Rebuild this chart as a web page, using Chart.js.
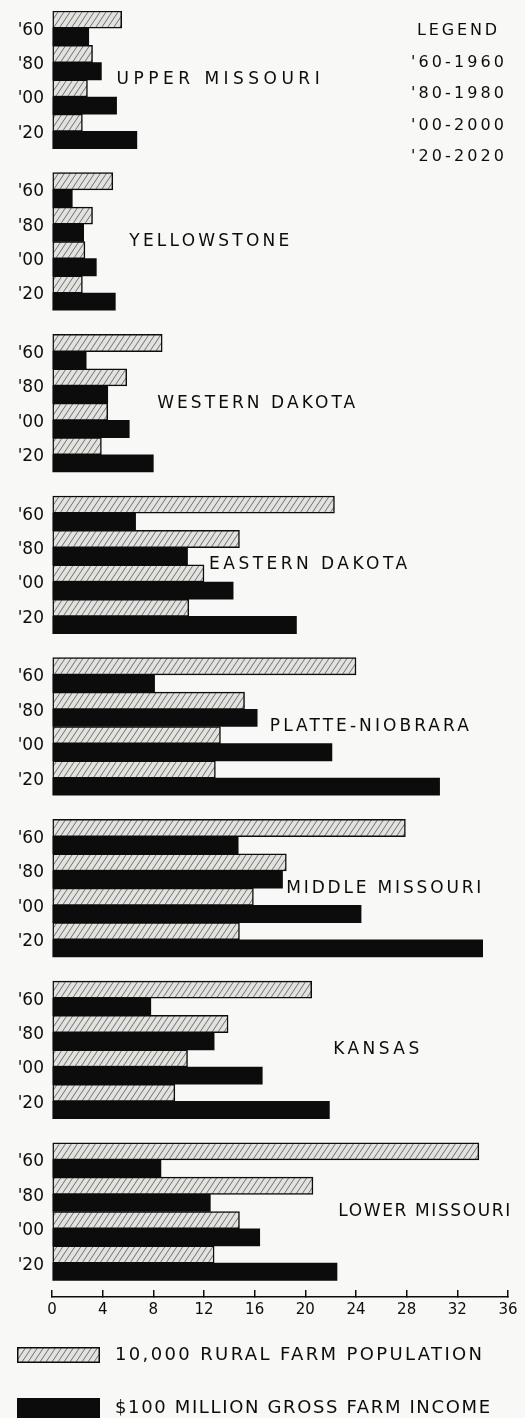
<!DOCTYPE html>
<html>
<head>
<meta charset="utf-8">
<title>Missouri Basin – rural farm population and gross farm income</title>
<script src="https://cdn.jsdelivr.net/npm/chart.js@4.4.1/dist/chart.umd.min.js"></script>
<style>
  html, body { margin: 0; padding: 0; background: #f8f8f6; }
  canvas { display: block; }
</style>
</head>
<body>
<canvas id="chart" width="525" height="1418"></canvas>
<script>
// ---- data -------------------------------------------------------------
const regions = [
  'UPPER MISSOURI', 'YELLOWSTONE', 'WESTERN DAKOTA', 'EASTERN DAKOTA',
  'PLATTE-NIOBRARA', 'MIDDLE MISSOURI', 'KANSAS', 'LOWER MISSOURI'
];
const yearLabels = ["'60", "'80", "'00", "'20"];
const yearNames = ['1960', '1980', '2000', '2020'];

// rural farm population, units of 10,000 (per region: 1960, 1980, 2000, 2020)
const ruralFarmPopulation = [
  [5.5, 3.2, 2.8, 2.4],
  [4.8, 3.2, 2.6, 2.4],
  [8.7, 5.9, 4.4, 3.9],
  [22.3, 14.8, 12.0, 10.8],
  [24.0, 15.2, 13.3, 12.9],
  [27.9, 18.5, 15.9, 14.8],
  [20.5, 13.9, 10.7, 9.7],
  [33.7, 20.6, 14.8, 12.8]
];
// gross farm income, units of $100 million
const grossFarmIncome = [
  [2.9, 3.9, 5.1, 6.7],
  [1.6, 2.5, 3.5, 5.0],
  [2.7, 4.4, 6.1, 8.0],
  [6.6, 10.7, 14.3, 19.3],
  [8.1, 16.2, 22.1, 30.6],
  [14.7, 18.2, 24.4, 34.0],
  [7.8, 12.8, 16.6, 21.9],
  [8.6, 12.5, 16.4, 22.5]
];
const xTickValues = [0, 4, 8, 12, 16, 20, 24, 28, 32, 36];

const populationLabel = '10,000 RURAL FARM POPULATION';
const incomeLabel = '$100 MILLION GROSS FARM INCOME';

// ---- layout -----------------------------------------------------------
const GROUP_PITCH = 9.4;   // row units between region blocks (one bar = 1 unit)
const Y_MAX = 74.77;       // bottom of the plot, in row units
const regionLabelX = [5.1, 6.1, 8.3, 12.4, 17.2, 18.5, 22.2, 22.6]; // label start, in x units
const regionLabelWidth = [203, 160, 198, 198, 199, 195, 86, 172];  // lettered width, px

const FONT = "'DejaVu Sans', 'Liberation Sans', sans-serif";
const INK = '#0c0c0c';

const rowPos = (k, j) => k * GROUP_PITCH + 2 * j + 1;

function seriesPoints(values) {
  const pts = [];
  values.forEach((row, k) => row.forEach((v, j) => pts.push({ x: v, y: rowPos(k, j) })));
  return pts;
}
const rowTicks = [];
regions.forEach((_, k) => yearLabels.forEach((_, j) => rowTicks.push(rowPos(k, j))));

const canvas = document.getElementById('chart');
const ctx = canvas.getContext('2d');

// diagonal hatching for the population bars
function makeHatch() {
  const w = 6, h = 9;
  const tile = document.createElement('canvas');
  tile.width = w; tile.height = h;
  const g = tile.getContext('2d');
  g.fillStyle = '#e2e2de';
  g.fillRect(0, 0, w, h);
  g.strokeStyle = '#6e6e6e';
  g.lineWidth = 1;
  g.beginPath();
  for (const dx of [-w, 0, w]) { g.moveTo(dx, h); g.lineTo(dx + w, 0); }
  g.stroke();
  return ctx.createPattern(tile, 'repeat');
}
const hatch = makeHatch();

// lettering spread out to a given overall width
function spacedText(c, text, x, y, width) {
  c.letterSpacing = '0px';
  const natural = c.measureText(text).width;
  const gap = Math.max(0, (width - natural) / Math.max(1, text.length - 1));
  c.letterSpacing = gap.toFixed(2) + 'px';
  c.fillText(text, x, y);
  c.letterSpacing = '0px';
}

// region names, year key and series key
const annotations = {
  id: 'annotations',
  afterDatasetsDraw(chart) {
    const { ctx: c, scales: { x, y } } = chart;
    c.save();
    c.fillStyle = INK;
    c.textBaseline = 'middle';
    c.textAlign = 'left';

    c.font = `17px ${FONT}`;
    regions.forEach((name, k) => {
      spacedText(c, name, x.getPixelForValue(regionLabelX[k]),
        y.getPixelForValue(k * GROUP_PITCH + 4), regionLabelWidth[k]);
    });

    c.font = `16px ${FONT}`;
    spacedText(c, 'LEGEND', 417, 31, 80);
    yearLabels.forEach((lab, j) => {
      spacedText(c, `${lab}-${yearNames[j]}`, 411, 62.5 + j * 31.5, 93);
    });

    // series key
    const sx = 17, sw = 83;
    c.fillStyle = hatch;
    c.fillRect(sx, 1347, sw, 16);
    c.strokeStyle = INK;
    c.lineWidth = 1.5;
    c.strokeRect(sx + 0.75, 1347.75, sw - 1.5, 14.5);
    c.fillStyle = INK;
    c.fillRect(sx, 1398, sw, 20);

    c.font = `18px ${FONT}`;
    spacedText(c, populationLabel, 115, 1355, 367);
    spacedText(c, incomeLabel, 115, 1408, 375);
    c.restore();
  }
};

Chart.defaults.font.family = FONT;
Chart.defaults.color = INK;

new Chart(ctx, {
  type: 'bar',
  data: {
    datasets: [
      {
        label: populationLabel,
        data: seriesPoints(ruralFarmPopulation),
        backgroundColor: hatch,
        borderColor: INK,
        borderWidth: 1.5,
        borderSkipped: false
      },
      {
        label: incomeLabel,
        data: seriesPoints(grossFarmIncome),
        backgroundColor: INK,
        borderWidth: 0
      }
    ]
  },
  options: {
    indexAxis: 'y',
    responsive: false,
    animation: false,
    events: [],
    datasets: { bar: { categoryPercentage: 1, barPercentage: 1 } },
    layout: { padding: { top: 11, right: 17, left: 0, bottom: 0 } },
    plugins: { legend: { display: false }, tooltip: { enabled: false } },
    scales: {
      x: {
        type: 'linear',
        position: 'bottom',
        min: 0,
        max: 36,
        offset: false,
        afterBuildTicks: s => { s.ticks = xTickValues.map(v => ({ value: v })); },
        afterFit: s => { s.height = 121; s.paddingLeft = 0; s.paddingRight = 0; },
        grid: { drawOnChartArea: false, drawTicks: true, tickLength: -7, color: INK, lineWidth: 1.5 },
        border: { display: true, color: INK, width: 1.5 },
        ticks: { color: INK, font: { size: 15 }, padding: 11, autoSkip: false, maxRotation: 0 }
      },
      y: {
        type: 'linear',
        reverse: true,
        offset: false,
        min: 0,
        max: Y_MAX,
        afterBuildTicks: s => { s.ticks = rowTicks.map(v => ({ value: v })); },
        afterFit: s => { s.width = 52; s.paddingTop = 0; s.paddingBottom = 0; },
        grid: { display: false, drawTicks: false, offset: false },
        border: { display: false },
        ticks: {
          callback: (v, i) => yearLabels[i % yearLabels.length],
          color: INK,
          font: { size: 17 },
          padding: 8,
          labelOffset: 2,
          autoSkip: false
        }
      }
    }
  },
  plugins: [annotations]
});
</script>
</body>
</html>
